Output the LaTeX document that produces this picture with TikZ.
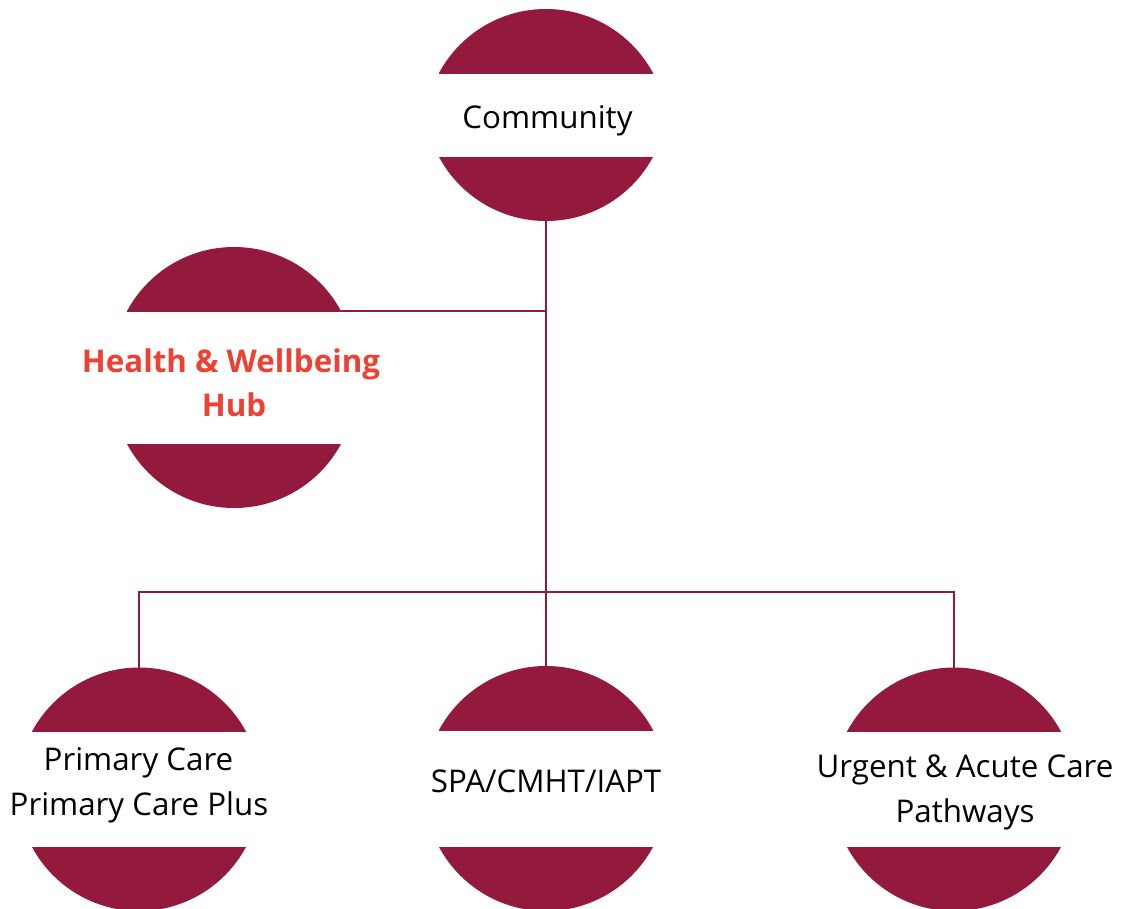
\documentclass[tikz,border=0pt]{standalone}
\usepackage{fontspec}
\setmainfont{Open Sans}
\definecolor{crimson}{HTML}{931A3D}
\definecolor{hubred}{HTML}{EC4133}
\newcommand{\capsnode}[5]{% name, cx, y top-band line, y bottom-band line, bottom clip
  \begin{scope}
    \clip ({#2-107},{#3}) rectangle ({#2+107},{#3-70});
    \fill[crimson] ({#2},{#3+57.4}) circle (121.4pt);
  \end{scope}
  \begin{scope}
    \clip ({#2-107},{#4}) rectangle ({#2+107},{#5});
    \fill[crimson] ({#2},{#4-57.4}) circle (121.4pt);
  \end{scope}
  \node[shapebox, minimum height={#4-#3+128}] (#1) at ({#2},{(#3+#4)/2}) {};
  \node[shapebox, minimum height=64] (#1top) at ({#2},{#3-32}) {};
}
\begin{document}
\begin{tikzpicture}[x=1pt,y=-1pt,
  shapebox/.style={inner sep=0pt, outer sep=0pt, minimum width=214pt},
  link/.style={draw=crimson, line width=2.6pt},
  lbl/.style={anchor=base, inner sep=0pt, font=\fontsize{31.3}{36}\selectfont, text=black},
  hublbl/.style={anchor=base, inner sep=0pt, font=\fontsize{31.3}{36}\selectfont\bfseries, text=hubred}]
\useasboundingbox (0,0) rectangle (1122,908);
\capsnode{comm}{546}{73}{157}{222}
\capsnode{hub}{234}{311}{444}{509}
\capsnode{prim}{139}{731.5}{847}{908}
\capsnode{spa}{546}{730}{847}{908}
\capsnode{urg}{954}{731.5}{847}{908}
% labels
\node[lbl] (commtext) at (547.5,128) {Community};
\node[hublbl] (hubtext1) at (231,372) {Health \& Wellbeing};
\node[hublbl] (hubtext2) at (234,416) {Hub};
\node[lbl] (primtext1) at (138.5,770) {Primary Care};
\node[lbl] (primtext2) at (139,815) {Primary Care Plus};
\node[lbl] (spatext) at (546,792) {SPA/CMHT/IAPT};
\node[lbl] (urgtext1) at (965,777) {Urgent \& Acute Care};
\node[lbl] (urgtext2) at (965,822) {Pathways};
% connectors
\coordinate (bus) at (546,592);
\draw[link] (comm.south) -- (spa.north);
\draw[link] (hubtop.south east) -- (hubtop.south east -| comm.south);
\draw[link] (prim.north) -- (prim.north |- bus) -- (urg.north |- bus) -- (urg.north);
\end{tikzpicture}
\end{document}
